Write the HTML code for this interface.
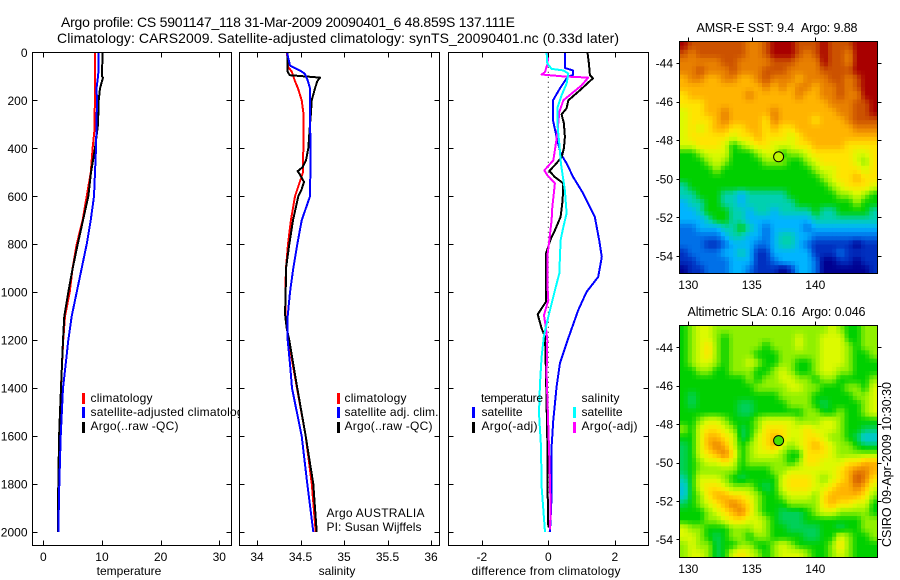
<!DOCTYPE html>
<html lang="en">
<head>
<meta charset="utf-8">
<title>Argo profile 5901147_118</title>
<style>
html,body{margin:0;padding:0;background:#fff;width:900px;height:580px;overflow:hidden}
svg{display:block}
text{font-family:"Liberation Sans",sans-serif;font-size:12px;fill:#000}
.ttl{font-size:14px}
.mt{font-size:12.5px}
</style>
</head>
<body>
<svg id="chart" xmlns="http://www.w3.org/2000/svg" width="900" height="580" viewBox="0 0 900 580">
<rect width="900" height="580" fill="#fff"/>
<text class="ttl" x="61" y="27" textLength="454">Argo profile: CS 5901147_118 31-Mar-2009 20090401_6 48.859S 137.111E</text>
<text class="ttl" x="57" y="43" textLength="562">Climatology: CARS2009. Satellite-adjusted climatology: synTS_20090401.nc (0.33d later)</text>

<g id="p1">
<rect x="32.5" y="52.5" width="199" height="493" fill="#fff"/>
<g id="p1-lines"></g>
<g>
<rect x="82" y="393" width="3" height="11" fill="#f00"/>
<rect x="82" y="407" width="3" height="11" fill="#00f"/>
<rect x="82" y="422" width="3" height="11" fill="#000"/>
<text x="90.5" y="402" textLength="62">climatology</text>
<text x="90.5" y="416" style="letter-spacing:.2px">satellite-adjusted climatology</text>
<text x="90.5" y="430" textLength="88">Argo(..raw -QC)</text>
</g>
<text x="129" y="575" text-anchor="middle">temperature</text>
</g>

<g id="p2">
<rect x="239.5" y="52.5" width="200" height="493" fill="#fff"/>
<g id="p2-lines"></g>
<g>
<rect x="337" y="393" width="3" height="11" fill="#f00"/>
<rect x="337" y="407" width="3" height="11" fill="#00f"/>
<rect x="337" y="422" width="3" height="11" fill="#000"/>
<text x="344.5" y="402" textLength="62">climatology</text>
<text x="344.5" y="416" textLength="94">satellite adj. clim.</text>
<text x="344.5" y="430" textLength="88">Argo(..raw -QC)</text>
</g>
<text x="326.5" y="517" textLength="98">Argo AUSTRALIA</text>
<text x="326.5" y="531" textLength="95">PI: Susan Wijffels</text>
<text x="337" y="575" text-anchor="middle">salinity</text>
</g>

<g id="p3">
<rect x="448.5" y="52.5" width="200" height="493" fill="#fff"/>
<g id="p3-lines"></g>
<g>
<text x="481" y="402" textLength="62">temperature</text>
<text x="581.5" y="402" textLength="38">salinity</text>
<rect x="472" y="407" width="3" height="11" fill="#00f"/>
<rect x="472" y="422" width="3" height="11" fill="#000"/>
<rect x="573" y="407" width="3" height="11" fill="#0ff"/>
<rect x="573" y="422" width="3" height="11" fill="#f0f"/>
<text x="481.5" y="416" textLength="41">satellite</text>
<text x="481.5" y="430" textLength="56">Argo(-adj)</text>
<text x="581.5" y="416" textLength="41">satellite</text>
<text x="581.5" y="430" textLength="56">Argo(-adj)</text>
</g>
<text x="546" y="575" text-anchor="middle" textLength="149">difference from climatology</text>
</g>

<text x="777" y="32" text-anchor="middle" textLength="161" class="mt">AMSR-E SST: 9.4&#160;&#160;Argo: 9.88</text>
<g id="map1"></g>
<text x="776.5" y="316" text-anchor="middle" textLength="178" class="mt">Altimetric SLA: 0.16&#160;&#160;Argo: 0.046</text>
<g id="map2"></g>
<text transform="translate(891 547) rotate(-90)" textLength="165" class="mt">CSIRO 09-Apr-2009 10:30:30</text>
</svg>

<script>
const depthTicks = [0,200,400,600,800,1000,1200,1400,1600,1800,2000];
const tempTicks = [0,10,20,30];
const salTicks = [34,34.5,35,35.5,36];
const salTickLabels = ["34","34.5","35","35.5","36"];
const diffTicks = [-2,0,2];
const lonTicks = [130,135,140];
const latTicks = [-44,-46,-48,-50,-52,-54];

const tempClimDepth = [0,100,200,330,400,500,600,700,800,900,1000,1100,1200,1400,1600,1800,2000];
const tempClim = [8.8,8.8,8.8,8.7,8.4,8.1,7.4,6.7,5.7,5.0,4.5,3.7,3.4,3.0,2.8,2.6,2.5];
const tempSatDepth = [0,80,100,150,200,300,400,500,600,700,800,900,1000,1100,1200,1300,1400,1600,1800,2000];
const tempSat = [9.4,9.4,9.32,9.07,9.15,9.07,8.98,8.81,8.64,8.08,7.4,6.55,5.69,4.84,4.26,3.82,3.36,2.97,2.73,2.56];
const tempArgoDepth = [0,100,105,150,200,300,400,500,600,700,800,900,1000,1100,1200,1300,1400,1500,1600,1800,1900,2000];
const tempArgo = [10.09,10.0,10.18,9.66,9.44,9.32,8.81,8.13,7.67,6.77,5.86,5.01,4.26,3.58,3.36,3.19,3.02,2.85,2.7,2.55,2.5,2.5];

const salClimDepth = [0,60,80,120,150,200,250,400,500,600,700,800,900,1000,1100,1200,1300,1400,1600,1800,2000];
const salClim = [34.345,34.356,34.40,34.437,34.471,34.514,34.532,34.532,34.529,34.437,34.39,34.356,34.333,34.325,34.325,34.364,34.41,34.46,34.56,34.63,34.675];
const salSatDepth = [0,55,80,90,120,150,300,400,600,700,800,900,1000,1100,1200,1300,1400,1600,1800,2000];
const salSat = [34.345,34.379,34.514,34.552,34.586,34.609,34.609,34.617,34.609,34.514,34.463,34.417,34.379,34.353,34.353,34.379,34.402,34.514,34.578,34.647];
const salArgoDepth = [0,80,90,95,100,105,120,150,200,250,300,400,450,480,495,510,540,570,600,700,800,900,1000,1090,1150,1200,1300,1400,1600,1800,2000];
const salArgo = [34.353,34.353,34.368,34.379,34.552,34.724,34.693,34.667,34.629,34.621,34.609,34.59,34.563,34.521,34.468,34.494,34.54,34.514,34.475,34.414,34.371,34.333,34.33,34.322,34.341,34.371,34.417,34.463,34.56,34.647,34.686];

const diffTempSatDepth = [0,65,75,95,100,150,200,283,353,422,463,520,588,686,783,853,936,999,1075,1192,1297,1394,1533,1644,1850,2000];
const diffTempSat = [0.50,0.50,0.74,0.74,0.59,0.35,0.14,0.14,0.25,0.37,0.55,0.75,1.05,1.40,1.53,1.61,1.50,1.15,0.90,0.60,0.35,0.25,0.15,0.10,0.10,0.05];
const diffTempArgoDepth = [0,46,95,108,158,200,233,258,296,353,400,437,470,494,520,546,617,686,742,780,838,922,1040,1092,1151,1186,1339,1617,1825,1979];
const diffTempArgo = [1.18,1.22,1.25,1.34,0.95,0.60,0.55,0.40,0.47,0.50,0.47,0.40,0.20,0.03,0.20,0.45,0.43,0.37,0.20,0.07,-0.07,-0.07,-0.07,-0.32,-0.20,-0.10,-0.07,-0.03,-0.02,0];
const diffSalSatDepth = [0,46,69,75,88,130,179,233,296,380,463,575,671,729,783,922,992,1103,1179,1270,1380,1505,1644,1810,2000];
const diffSalSat = [-0.05,-0.03,0.10,0.45,0.60,0.55,0.40,0.27,0.27,0.33,0.38,0.50,0.55,0.45,0.37,0.33,0.20,0,-0.13,-0.20,-0.25,-0.28,-0.22,-0.20,-0.10];
const diffSalArgoDepth = [0,46,82,92,100,105,138,166,200,249,339,408,450,492,512,546,646,700,783,853,964,1033,1096,1151,1200,1339,1561,1686,1894,1990];
const diffSalArgo = [0,-0.02,-0.10,-0.20,0.45,1.20,1.00,0.75,0.45,0.33,0.27,0.20,0.15,-0.12,-0.03,0.20,0.12,0.10,0.03,-0.03,-0.03,0,-0.13,-0.07,-0.03,-0.05,0,0.03,0.07,0.05];

const mapPalette = ["#000090","#0030c0","#0070e8","#00b4ff","#00d0b0","#00d000","#90f000","#dcfa00","#ffe400","#ffb400","#e88000","#cc5200","#a80000"];

const sstGrid = [
[12,11,11,11,11,11,11,11,10,10,11,12,12,12,11,11,11,12,11,11,11,12,12,12],
[11,10,11,11,11,11,11,11,10,10,11,12,12,12,11,10,11,12,11,11,10,12,12,12],
[10,10,10,10,10,11,11,10,10,10,10,11,11,11,10,10,10,12,11,11,10,12,12,12],
[10,10,11,10,10,10,11,10,10,10,11,11,11,10,10,10,10,11,11,11,11,12,12,12],
[9,10,10,9,9,10,10,9,9,10,11,10,10,10,9,10,10,10,11,11,10,11,12,12],
[9,9,9,9,9,9,9,9,9,9,10,9,10,9,10,10,9,10,10,11,10,11,12,12],
[8,9,9,9,9,9,9,9,10,9,9,9,9,9,10,9,9,10,10,11,10,10,12,12],
[8,8,8,9,9,9,9,9,9,9,9,9,9,9,9,9,9,9,10,10,10,11,11,12],
[7,8,8,9,9,10,9,9,9,9,9,10,9,9,9,9,9,9,9,10,10,11,11,12],
[7,8,8,8,9,10,9,9,9,9,8,10,9,9,9,9,8,9,9,9,10,11,11,11],
[7,8,7,8,9,9,8,8,9,9,8,9,8,8,9,9,9,9,9,9,9,10,10,10],
[7,8,8,8,8,8,7,8,8,9,8,8,8,7,8,9,9,9,9,9,9,9,9,9],
[7,7,8,8,8,7,5,6,7,8,8,7,7,7,8,8,9,9,9,9,8,8,8,8],
[5,5,6,7,7,7,5,5,5,6,7,7,5,6,6,7,8,8,8,8,8,7,7,8],
[5,5,5,6,7,6,5,5,5,5,6,6,6,5,5,6,7,8,8,8,8,7,6,8],
[5,5,5,5,6,5,5,5,5,5,5,5,5,5,5,5,6,7,7,8,8,8,7,8],
[5,5,5,5,5,5,5,5,5,5,5,5,5,5,5,5,5,6,7,8,8,9,8,8],
[4,5,5,5,5,5,5,5,5,5,5,5,5,5,5,5,5,5,6,7,8,8,8,7],
[4,4,5,5,5,4,4,3,4,4,4,4,4,5,5,5,5,5,5,6,6,7,6,5],
[3,4,4,5,5,4,4,3,4,4,4,4,4,4,5,5,5,5,5,5,5,6,5,5],
[3,3,4,5,5,5,4,4,3,4,4,3,4,4,4,4,5,4,4,5,5,5,5,4],
[3,3,3,4,5,5,4,4,3,3,3,3,3,3,3,3,4,4,4,4,4,4,4,4],
[2,2,3,3,3,4,4,5,4,3,2,3,3,3,3,2,3,3,3,3,3,3,3,3],
[2,2,2,2,2,3,4,4,3,3,2,3,4,4,3,3,2,2,2,2,2,2,2,2],
[2,2,2,1,1,2,3,3,3,2,2,3,4,4,3,2,1,1,1,1,1,0,1,1],
[1,2,2,2,2,3,3,4,3,1,1,3,3,3,3,3,1,1,1,2,1,1,1,1],
[1,1,2,2,2,2,3,3,3,1,1,2,3,3,3,3,2,0,0,1,1,0,1,1],
[0,1,1,2,2,2,3,3,2,1,1,1,0,1,3,3,2,0,0,0,0,0,0,1]
];

const slaGrid = [
[5,6,7,7,6,6,6,6,6,6,6,6,6,6,6,6,6,6,7,6,5,5,6,6],
[5,6,7,7,6,5,6,6,6,6,6,6,6,6,7,6,6,7,7,7,5,5,6,6],
[5,6,7,8,6,5,6,6,6,6,5,6,6,6,7,6,6,7,7,7,6,5,6,6],
[5,6,7,8,6,5,6,6,6,5,5,5,6,6,6,6,6,7,7,7,6,5,5,6],
[5,6,7,7,6,5,6,6,7,6,5,5,6,6,5,5,6,7,7,7,6,5,5,5],
[5,5,6,6,5,5,6,6,6,5,5,6,7,6,5,5,6,7,7,6,6,5,5,5],
[5,5,5,5,5,5,5,5,6,5,6,6,7,7,6,6,5,6,6,5,5,5,5,6],
[5,5,5,5,5,5,5,5,5,6,6,6,6,7,7,6,6,5,5,5,6,6,5,7],
[5,4.5,5,5,5,5,5,5,5,5,5,5,6,6,6,6,5,5,5,5,5,6,6,7],
[5,4.5,5,5,5,5,5,4.5,4.5,5,5,5,5,6,6,6,5,4.5,5,5,5,5,6,7],
[5,5,5,5,5,5,5,4.5,4.5,5,5,5,5,5,5,6,6,5,5,6,5,5,6,7],
[5,5,6,7,7,6,5,5,5,6,7,7,7,7,6,6,6,7,7,6,5,5,5,5],
[6,5,7,8,8,7,6,4.5,5,6,8,8,8,7,7,8,7,7,7,6,5,5,4.5,4.5],
[5,5,7,9,9,8,7,4.5,5,7,8,9,8,7,7,8,8,7,6,6,5,4.5,3.5,3.5],
[4.5,5,7,9,10,9,7,5,6,7,8,9,7,6,7,8,9,8,7,6,6,5,4.5,4.5],
[4.5,5,7,8,9,10,8,5,6,7,7,7,6,5,5,8,8,8,7,6,6,6,6,6],
[4.5,5,6,7,7,8,7,5,6,6,6,6,6,5,6,8,8,7,7,7,8,8,9,9],
[4.5,5,6,6,6,6,6,5,5,5,5,6,6,7,7,7,7,7,7,8,9,10,10,9],
[4,5,7,7,7,6,5,4.5,5,5,5,5,7,8,8,8,7,6,7,8,9,11,10,8],
[3.5,5,7,8,8,7,6,6,6,5,4.5,5,7,8,8,8,7,7,8,9,9,10,9,7],
[3.5,5,6,8,9,9,8,8,7,6,5,5,6,7,7,7,6,8,9,9,9,9,8,6],
[4.5,5,6,7,8,9,10,9,8,6,5,5,5,6,6,6,6,8,9,8,8,7,7,5],
[5,5,5,6,7,8,9,10,8,6,5,5,4.5,4.5,4.5,5,6,7,7,6,6,6,6,5],
[5,5,5,6,6,7,8,8,7,7,6,5,4.5,4.5,4.5,5,5,5,5,5,5,5,6,6],
[7,6,6,5,5,5,6,6,6,7,6,5,5,4.5,4.5,4.5,4.5,5,5,4.5,5,5,6,6],
[7,7,6,5,4.5,5,6,6,5,6,6,5,5,5,5,4.5,4.5,5,5,7,6,5,5,6],
[6,7,6,6,4.5,5,5,6,6,5,5,6,7,6,5,5,5,5,6,8,6,5,5,5],
[6,7,7,6,4.5,5,7,8,7,6,5,6,7,7,7,6,5,5,6,7,6,5,5,5]
];

const argoLon = 137.111;
const argoLat = -48.859;
const sstArgoLevel = 6.6;
const slaArgoLevel = 5.5;

const NS = "http://www.w3.org/2000/svg";
function mk(parent, tag, attrs) {
  const el = document.createElementNS(NS, tag);
  for (const k in attrs) el.setAttribute(k, attrs[k]);
  parent.appendChild(el);
  return el;
}
const depthY = d => 52.4 + d * 0.2398;
const tempX = v => 43.3 + v * 5.867;
const salX = v => 257 + (v - 34) * 87;
const diffX = v => 548.3 + v * 33.25;

function drawSeries(group, xFn, depths, values, color, name, width) {
  const pts = values.map((v, i) => xFn(v).toFixed(1) + "," + depthY(depths[i]).toFixed(1)).join(" ");
  const el = mk(group, "polyline", {points: pts, fill: "none", stroke: color, "stroke-width": width, "stroke-linejoin": "round", "shape-rendering": "crispEdges"});
  
  
}

function drawAxes(panel, left, right, xFn, xTicks, xLabels, showY) {
  const top = 52.5, bottom = 545.5;
  const frame = mk(panel, "rect", {x: left, y: top, width: right - left, height: bottom - top, fill: "none", stroke: "#000", "stroke-width": 1, "shape-rendering": "crispEdges"});
  
  
  xTicks.forEach((t, i) => {
    const x = Math.round(xFn(t)) + 0.5;
    const tk = mk(panel, "path", {d: `M${x} ${bottom}v-5M${x} ${top}v5`, stroke: "#000", "shape-rendering": "crispEdges"});
    
    
    const lb = mk(panel, "text", {x: xFn(t), y: 561, "text-anchor": "middle"});
    lb.textContent = xLabels[i];
    
    
  });
  depthTicks.forEach(d => {
    const y = Math.round(depthY(d)) + 0.5;
    const tk = mk(panel, "path", {d: `M${left} ${y}h5M${right} ${y}h-5`, stroke: "#000", "shape-rendering": "crispEdges"});
    
    
    if (showY) {
      const lb = mk(panel, "text", {x: 27.5, y: depthY(d) + 4.5, "text-anchor": "end"});
      lb.textContent = d;
      
      
    }
  });
}

const p1 = document.getElementById("p1-lines");
drawSeries(p1, tempX, tempClimDepth, tempClim, "#f00", "temperature-climatology-line", 2);
drawSeries(p1, tempX, tempArgoDepth, tempArgo, "#000", "temperature-argo-line", 2);
drawSeries(p1, tempX, tempSatDepth, tempSat, "#00f", "temperature-satellite-line", 2);

const p2 = document.getElementById("p2-lines");
drawSeries(p2, salX, salClimDepth, salClim, "#f00", "salinity-climatology-line", 2);
drawSeries(p2, salX, salArgoDepth, salArgo, "#000", "salinity-argo-line", 2);
drawSeries(p2, salX, salSatDepth, salSat, "#00f", "salinity-satellite-line", 2);

const p3 = document.getElementById("p3-lines");
const zero = mk(p3, "line", {x1: diffX(0), x2: diffX(0), y1: depthY(60), y2: depthY(2000), stroke: "#000", "stroke-width": 1, "stroke-dasharray": "1 4"});


drawSeries(p3, diffX, diffTempSatDepth, diffTempSat, "#00f", "difference-temp-satellite-line", 2);
drawSeries(p3, diffX, diffTempArgoDepth, diffTempArgo, "#000", "difference-temp-argo-line", 2);
drawSeries(p3, diffX, diffSalArgoDepth, diffSalArgo, "#f0f", "difference-sal-argo-line", 2);
drawSeries(p3, diffX, diffSalSatDepth, diffSalSat, "#0ff", "difference-sal-satellite-line", 2);

drawAxes(document.getElementById("p1"), 32.5, 231.5, tempX, tempTicks, tempTicks.map(String), true);
drawAxes(document.getElementById("p2"), 239.5, 439.5, salX, salTicks, salTickLabels, false);
drawAxes(document.getElementById("p3"), 448.5, 648.5, diffX, diffTicks, diffTicks.map(t => t < 0 ? "-" + (-t) : String(t)), false);

function hex(c) { return [1, 3, 5].map(i => parseInt(c.substr(i, 2), 16)); }
function levelColor(v) {
  const lo = Math.max(0, Math.min(mapPalette.length - 1, Math.floor(v)));
  const hi = Math.min(mapPalette.length - 1, lo + 1);
  const f = v - lo, a = hex(mapPalette[lo]), b = hex(mapPalette[hi]);
  return "rgb(" + a.map((x, i) => Math.round(x + (b[i] - x) * f)).join(",") + ")";
}

/* bilinear sample of a grid at fractional row/column */
function sampleGrid(grid, r, c) {
  const rows = grid.length, cols = grid[0].length;
  const rr = Math.max(0, Math.min(rows - 1, r)), cc = Math.max(0, Math.min(cols - 1, c));
  const r0 = Math.floor(rr), c0 = Math.floor(cc);
  const r1 = Math.min(rows - 1, r0 + 1), c1 = Math.min(cols - 1, c0 + 1);
  const fr = rr - r0, fc = cc - c0;
  return (grid[r0][c0] * (1 - fc) + grid[r0][c1] * fc) * (1 - fr) + (grid[r1][c0] * (1 - fc) + grid[r1][c1] * fc) * fr;
}

function drawMap(group, grid, top, bottom, lat44Y, latScale, argoLevel, cellName) {
  const left = 679.5, right = 877.5;
  const lonX = lon => 688.3 + (lon - 130) * 12.7;
  const latY = lat => lat44Y + (-44 - lat) * latScale;
  const sub = 2;
  const rows = grid.length * sub, cols = grid[0].length * sub;
  const cw = (right - left) / cols, ch = (bottom - top) / rows;
  for (let r = 0; r < rows; r++) {
    for (let c = 0; c < cols; c++) {
      const v = sampleGrid(grid, (r + 0.5) / sub - 0.5, (c + 0.5) / sub - 0.5);
      const cell = mk(group, "rect", {x: (left + c * cw).toFixed(2), y: (top + r * ch).toFixed(2), width: (cw + 0.5).toFixed(2), height: (ch + 0.5).toFixed(2), fill: levelColor(v)});
      
      
    }
  }
  const frame = mk(group, "rect", {x: left, y: top, width: right - left, height: bottom - top, fill: "none", stroke: "#000", "shape-rendering": "crispEdges"});
  
  
  lonTicks.forEach(t => {
    const x = Math.round(lonX(t)) + 0.5;
    const tk = mk(group, "path", {d: `M${x} ${top}v-4`, stroke: "#000", "shape-rendering": "crispEdges"});
    
    
    const lb = mk(group, "text", {x: lonX(t), y: bottom + 15.5, "text-anchor": "middle"});
    lb.textContent = t;
    
    
  });
  latTicks.forEach(t => {
    const y = Math.round(latY(t)) + 0.5;
    const tk = mk(group, "path", {d: `M${right} ${y}h4M${left} ${y}h-3`, stroke: "#000", "shape-rendering": "crispEdges"});
    
    
    const lb = mk(group, "text", {x: 673, y: latY(t) + 4.5, "text-anchor": "end"});
    lb.textContent = t;
    
    
  });
  const dot = mk(group, "circle", {cx: lonX(argoLon), cy: latY(argoLat), r: 5, fill: levelColor(argoLevel), stroke: "#000", "stroke-width": 1});
  
  
}

drawMap(document.getElementById("map1"), sstGrid, 41.5, 273.5, 63, 19.3, sstArgoLevel, "sst-cell");
drawMap(document.getElementById("map2"), slaGrid, 325.5, 557.5, 347.3, 19.2, slaArgoLevel, "sla-cell");
</script>
</body>
</html>
